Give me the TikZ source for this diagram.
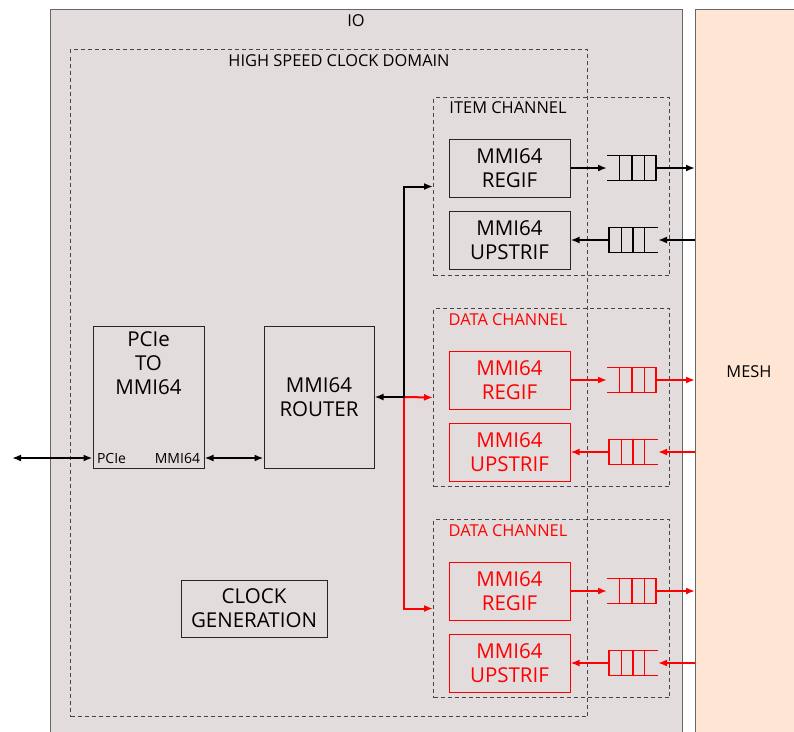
\documentclass[tikz,border=0pt]{standalone}
\usepackage{fontspec}
\setmainfont{Open Sans}
\usepackage{tikz}
\usetikzlibrary{arrows.meta, positioning, calc}
\usepackage{xcolor}
\definecolor{iofill}{RGB}{226,220,220}
\definecolor{meshfill}{RGB}{255,229,212}
\definecolor{dashgray}{RGB}{70,70,70}

% queue open at the left (towards the mesh)
\newcommand{\fifoout}[2]{%
  \draw[#2, line width=1.3pt] (#1.north west) -- (#1.north east) -- (#1.south east) -- (#1.south west);
  \foreach \f in {0.26,0.51,0.76}
    \draw[#2, line width=1.3pt] ($(#1.north west)!\f!(#1.north east)$) -- ($(#1.south west)!\f!(#1.south east)$);
}
% queue open at the right (from the mesh)
\newcommand{\fifoin}[2]{%
  \draw[#2, line width=1.3pt] (#1.north east) -- (#1.north west) -- (#1.south west) -- (#1.south east);
  \foreach \f in {0.25,0.49,0.73}
    \draw[#2, line width=1.3pt] ($(#1.north west)!\f!(#1.north east)$) -- ($(#1.south west)!\f!(#1.south east)$);
}

\begin{document}
\begin{tikzpicture}[x=1pt, y=-1pt, line width=1pt,
  box/.style={draw=black!85, align=center, inner sep=0pt,
    minimum width=121pt, minimum height=58pt,
    font=\fontsize{20.5}{24}\selectfont},
  redbox/.style={box, draw=red, text=red},
  chan/.style={draw=dashgray, dash pattern=on 4pt off 3pt, anchor=north west,
    inner sep=0pt, minimum width=236pt, minimum height=178pt},
  lbl/.style={font=\fontsize{16.4}{18}\selectfont},
  fifo/.style={inner sep=0pt, outer sep=0pt, minimum width=49pt, minimum height=25pt},
  link/.style={line width=2pt, -{Latex[length=9pt,width=7pt]}},
  blink/.style={line width=2pt, {Latex[length=9pt,width=7pt]}-{Latex[length=9pt,width=7pt]}}]

\useasboundingbox (0,0) rectangle (794,731);

% IO and MESH
\node[draw=black!60, fill=iofill, anchor=north west, inner sep=0pt,
  minimum width=632pt, minimum height=760pt] (io) at (50,9) {};
\node[draw=black!60, fill=meshfill, anchor=north west, inner sep=0pt,
  minimum width=120pt, minimum height=760pt] (mesh) at (695,9) {};
\node[lbl] (iolbl) at (356,21) {IO};
\node[lbl] (meshlbl) at (749,372) {MESH};

% high speed clock domain
\node[chan, minimum width=517pt, minimum height=667pt] (hscd) at (70,49) {};
\node[lbl] (hscdlbl) at (339,61) {HIGH SPEED CLOCK DOMAIN};

% channels
\node[chan] (itemch) at (433,97) {};
\node[chan] (datachA) at (433,308) {};
\node[chan] (datachB) at (433,519) {};
\node[lbl] (itemlbl) at (508,108) {ITEM CHANNEL};
\node[lbl, text=red] (datalblA) at (508,320) {DATA CHANNEL};
\node[lbl, text=red] (datalblB) at (508,531) {DATA CHANNEL};

\node[box] (regifI) at (509.5,168) {MMI64\\REGIF};
\node[box] (upstrI) at (509.5,240) {MMI64\\UPSTRIF};
\node[redbox] (regifA) at (509.5,380) {MMI64\\REGIF};
\node[redbox] (upstrA) at (509.5,452) {MMI64\\UPSTRIF};
\node[redbox] (regifB) at (509.5,591) {MMI64\\REGIF};
\node[redbox] (upstrB) at (509.5,663) {MMI64\\UPSTRIF};

% queues
\node[fifo] (qoutI) at (631.5,168) {};
\node[fifo] (qinI) at (633.5,240) {};
\node[fifo] (qoutA) at (631.5,380) {};
\node[fifo] (qinA) at (633.5,452) {};
\node[fifo] (qoutB) at (631.5,591) {};
\node[fifo] (qinB) at (633.5,663) {};
\fifoout{qoutI}{black}
\fifoin{qinI}{black}
\fifoout{qoutA}{red}
\fifoin{qinA}{red}
\fifoout{qoutB}{red}
\fifoin{qinB}{red}

\draw[link] (regifI) -- (qoutI);
\draw[link] (qoutI) -- (qoutI -| mesh.west);
\draw[link] (mesh.west |- qinI) -- (qinI);
\draw[link] (qinI) -- (upstrI);
\draw[link, red] (regifA) -- (qoutA);
\draw[link, red] (qoutA) -- (qoutA -| mesh.west);
\draw[link, red] (mesh.west |- qinA) -- (qinA);
\draw[link, red] (qinA) -- (upstrA);
\draw[link, red] (regifB) -- (qoutB);
\draw[link, red] (qoutB) -- (qoutB -| mesh.west);
\draw[link, red] (mesh.west |- qinB) -- (qinB);
\draw[link, red] (qinB) -- (upstrB);

% PCIe bridge, router, clock
\node[draw=black!85, minimum width=111pt, minimum height=142pt, inner sep=0pt] (pcie) at (148.5,397) {};
\node[font=\fontsize{20.5}{24}\selectfont, align=center, anchor=north, inner sep=0pt] (pcietxt)
  at ([yshift=-6pt]pcie.north) {PCIe\\TO\\MMI64};
\node[font=\fontsize{14}{16}\selectfont, anchor=south west, inner sep=4pt] (pcieport) at (pcie.south west) {PCIe};
\node[font=\fontsize{14}{16}\selectfont, anchor=south east, inner sep=4pt] (mmiport) at (pcie.south east) {MMI64};
\node[box, minimum width=110pt, minimum height=142pt] (router) at (319,397) {MMI64\\ROUTER};
\node[box, minimum width=146pt, minimum height=57pt] (clkgen) at (254,608.5) {CLOCK\\GENERATION};

\coordinate (ext) at (12,458);
\coordinate (bus) at (404,397);
\draw[blink] (ext) -- (pcie.west |- ext);
\draw[blink] (pcie.east |- ext) -- (router.west |- ext);

\draw[link, red] (bus) -- (datachA.west);
\draw[link, red] (bus) |- (datachB.west);
\draw[blink] (router.east) -- (bus) |- (itemch.west);

\end{tikzpicture}
\end{document}
